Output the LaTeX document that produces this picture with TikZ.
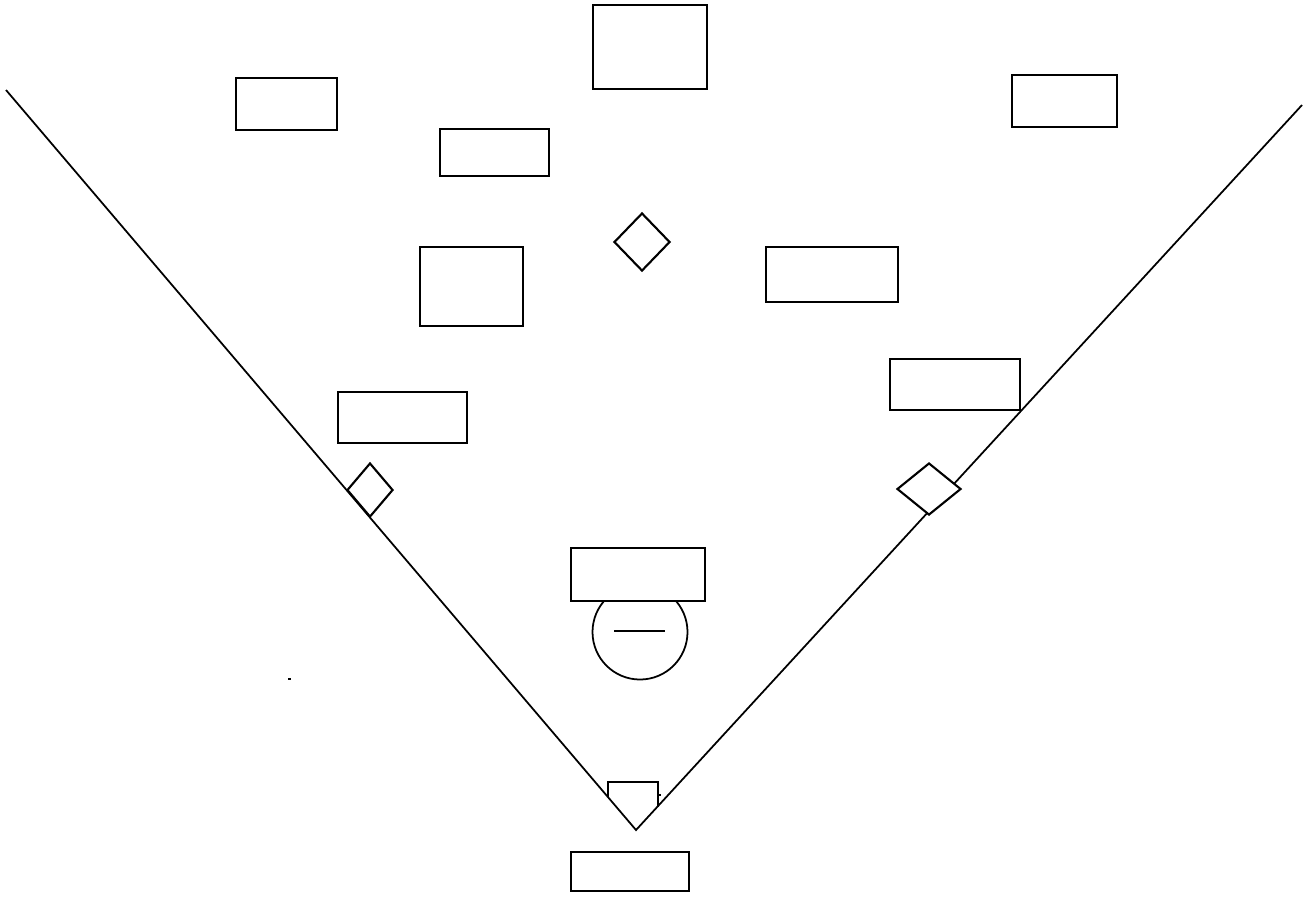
\documentclass[tikz,border=0pt]{standalone}
\usetikzlibrary{shapes.geometric}

\begin{document}
\begin{tikzpicture}[
            box/.style={draw, fill=white, line width=0.6pt, inner sep=0pt},
            base/.style={draw, diamond, line width=0.6pt, inner sep=0pt},
            foul/.style={line width=0.5pt}
        ]
            \useasboundingbox (0,0) rectangle (13.03,-8.97);

            % foul lines
            \coordinate (home) at (6.36,-8.30);
            \coordinate (lfpole) at (0.06,-0.90);
            \coordinate (rfpole) at (13.02,-1.05);
            \draw[foul] (lfpole) -- (home) -- (rfpole);

            % home plate
            \draw[line width=0.6pt] (6.08,-7.97) -- (6.08,-7.82) -- (6.58,-7.82) -- (6.58,-8.07);
            \draw[line width=0.5pt] (6.58,-7.95) -- (6.61,-7.95);

            % mound
            \node[draw, circle, line width=0.5pt, minimum size=0.95cm, inner sep=0pt] (mound) at (6.40,-6.32) {};
            \draw[line width=0.6pt] (6.14,-6.31) -- (6.65,-6.31);

            % bases
            \node[base, minimum width=0.56cm, minimum height=0.58cm] (second) at (6.42,-2.42) {};
            \node[base, minimum width=0.46cm, minimum height=0.54cm] (third) at (3.70,-4.90) {};
            \node[base, fill=white, minimum width=0.64cm, minimum height=0.52cm] (first) at (9.29,-4.89) {};

            % position boxes
            \node[box, minimum width=1.14cm, minimum height=0.84cm] (cf) at (6.50,-0.47) {};
            \node[box, minimum width=1.01cm, minimum height=0.52cm] (lf) at (2.865,-1.04) {};
            \node[box, minimum width=1.05cm, minimum height=0.52cm] (rf) at (10.645,-1.01) {};
            \node[box, minimum width=1.09cm, minimum height=0.47cm] (lcf) at (4.945,-1.525) {};
            \node[box, minimum width=1.03cm, minimum height=0.79cm] (ss) at (4.715,-2.865) {};
            \node[box, minimum width=1.32cm, minimum height=0.55cm] (sb) at (8.32,-2.745) {};
            \node[box, minimum width=1.30cm, minimum height=0.51cm] (fb) at (9.55,-3.845) {};
            \node[box, minimum width=1.29cm, minimum height=0.51cm] (tb) at (4.025,-4.175) {};
            \node[box, minimum width=1.34cm, minimum height=0.53cm] (p) at (6.38,-5.745) {};
            \node[box, minimum width=1.18cm, minimum height=0.39cm] (c) at (6.30,-8.715) {};

            \draw[line width=0.5pt] (2.88,-6.79) -- (2.91,-6.79);
        \end{tikzpicture}
\end{document}
